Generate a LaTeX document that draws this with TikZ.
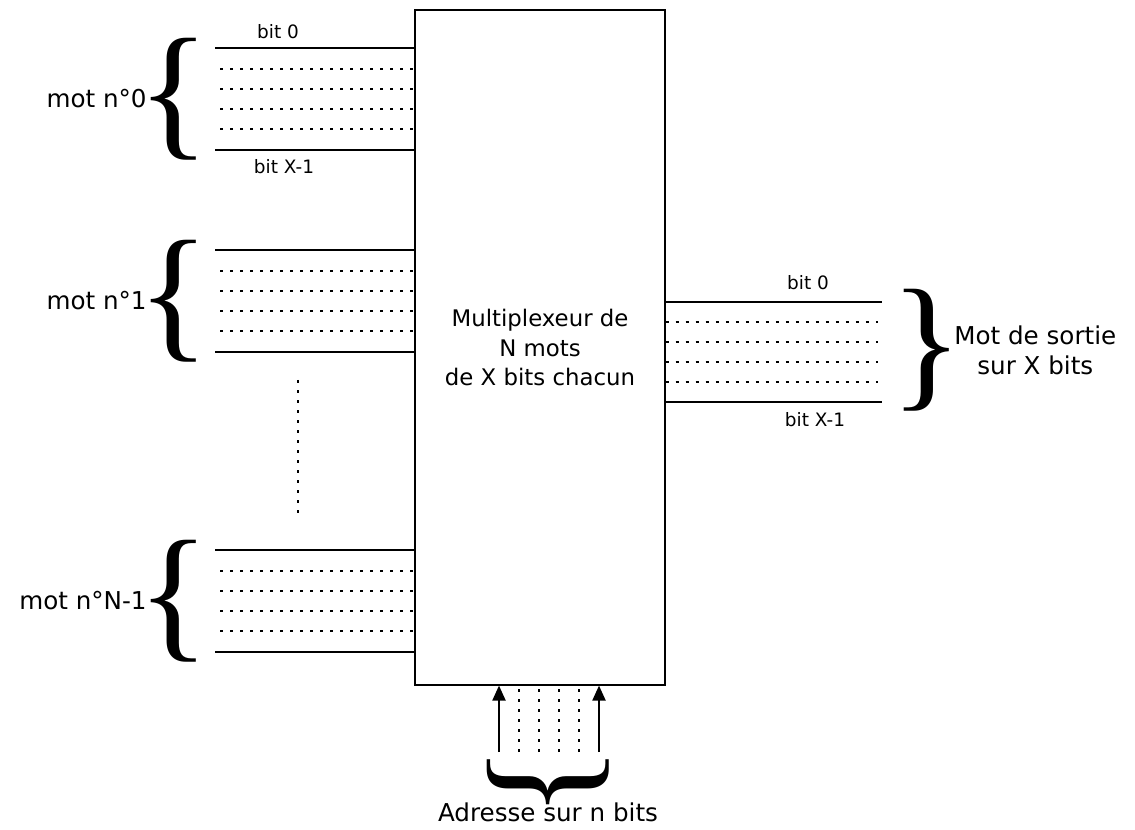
\documentclass[tikz,border=0pt]{standalone}
\usepackage{fontspec}
\setmainfont{DejaVu Sans}
\newfontfamily\bracefont{Liberation Serif}
\usepackage{graphicx}
\usetikzlibrary{arrows.meta}

\newcommand{\bigbrace}[1]{\resizebox*{1.45cm}{2.44cm}{\bracefont#1}}

\begin{document}
\begin{tikzpicture}[x=0.02cm, y=-0.02cm,
    wire/.style = {line width=0.8pt},
    wiredot/.style = {line width=1pt, dash pattern=on 1.8pt off 3.9pt},
    bitlbl/.style = {font=\fontsize{10.5}{12}\selectfont, inner sep=0pt},
    lbl/.style = {font=\fontsize{14}{17}\selectfont, align=center, inner sep=0pt},
    bracebox/.style = {inner sep=0pt}]
    \useasboundingbox (0,0) rectangle (1135,830);

    \node[draw, wire, minimum width=5cm, minimum height=13.5cm, lbl, font=\fontsize{13}{17}\selectfont] (mux) at (540,347.5) {Multiplexeur de\\N mots\\de X bits chacun};

    % mots en entree
    \foreach \w/\y/\txt in {0/48/mot n°0, 1/250/mot n°1, 2/550/mot n°N-1} {
        \coordinate (w\w-0) at (215,\y);
        \coordinate (w\w-5) at (215,\y+102);
        \draw[wire] (w\w-0) -- (w\w-0 -| mux.west);
        \draw[wire] (w\w-5) -- (w\w-5 -| mux.west);
        \foreach \k in {1,...,4} {
            \coordinate (w\w-\k) at (220,\y+20*\k+1);
            \draw[wiredot] (w\w-\k) -- (w\w-\k -| mux.west);
        }
        \node[bracebox] (br\w) at (174,\y+51) {\bigbrace{\{}};
        \node[lbl, anchor=east] (mot\w) at (147,\y+51) {\txt};
    }
    \node[bitlbl] (in0) at (278,32) {bit 0};
    \node[bitlbl] (inX) at (284,167) {bit X-1};

    \coordinate (gapa) at (298,380);
    \coordinate (gapb) at (298,520);
    \draw[wiredot] (gapa) -- (gapb);

    % mot de sortie
    \coordinate (o0) at (882,302);
    \coordinate (o5) at (882,402);
    \draw[wire] (o0 -| mux.east) -- (o0);
    \draw[wire] (o5 -| mux.east) -- (o5);
    \foreach \k in {1,...,4} {
        \coordinate (o\k) at (878,302+20*\k);
        \draw[wiredot] (o\k -| mux.east) -- (o\k);
    }
    \node[bracebox] (brout) at (927,350) {\bigbrace{\}}};
    \node[lbl, anchor=west] (sortie) at (954,350) {Mot de sortie\\sur X bits};
    \node[bitlbl] (out0) at (808,283) {bit 0};
    \node[bitlbl] (outX) at (815,420) {bit X-1};

    % adresse
    \coordinate (a0) at (499,752);
    \coordinate (a5) at (599,752);
    \draw[wire, -{Triangle[length=8.5pt,width=7.5pt]}] (a0) -- (a0 |- mux.south);
    \draw[wire, -{Triangle[length=8.5pt,width=7.5pt]}] (a5) -- (a5 |- mux.south);
    \foreach \k in {1,...,4} {
        \coordinate (a\k) at (499+20*\k,752);
        \draw[wiredot] (a\k) -- (a\k |- mux.south);
    }
    \node[bracebox, rotate=90] (bradr) at (548,782) {\bigbrace{\{}};
    \node[lbl] (adr) at (548,812) {Adresse sur n bits};
\end{tikzpicture}
\end{document}
